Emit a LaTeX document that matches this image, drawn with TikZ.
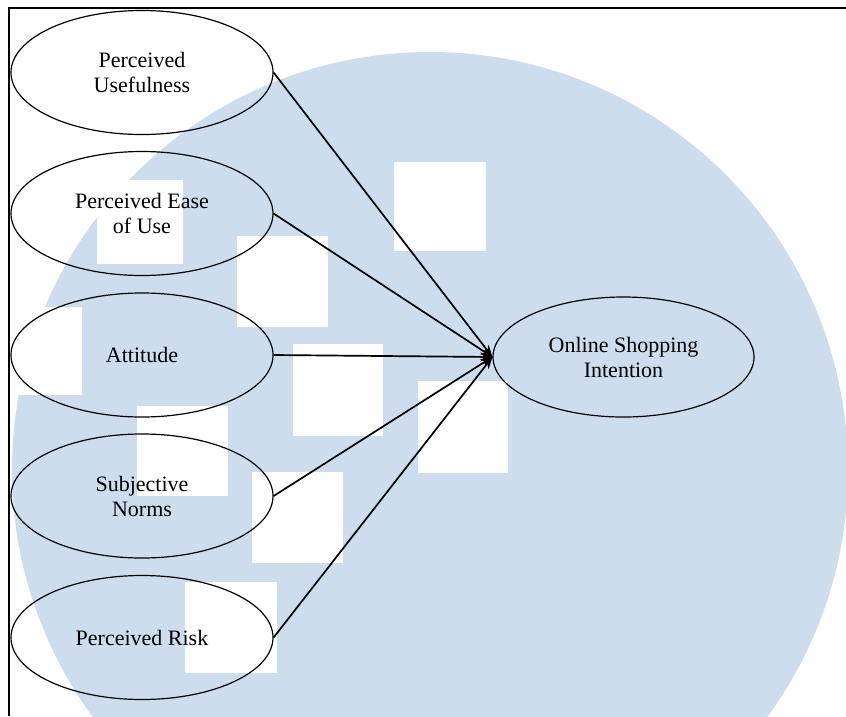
\documentclass[tikz,border=0pt]{standalone}
\usepackage{fontspec}
\setmainfont{Liberation Serif}
\usetikzlibrary{shapes.geometric,arrows.meta}
\definecolor{wmblue}{RGB}{205,221,237}
\begin{document}
\begin{tikzpicture}[x=1pt,y=-1pt,
  factor/.style={draw, line width=1.2pt, ellipse, minimum width=262pt, minimum height=124pt, inner sep=0pt, align=center, font=\fontsize{22}{25}\selectfont},
  link/.style={line width=1.7pt, -{Stealth[length=12pt,width=9pt]}},
  frameline/.style={line width=2.2pt}]
\useasboundingbox (0,0) rectangle (846,716);
\begin{scope}
  \clip (0,0) rectangle (846,716);
  \fill[wmblue] (430,470) circle[radius=418];
  \fill[white] (394,162) rectangle (486,251);
  \fill[white] (237,236) rectangle (328,327);
  \fill[white] (293,344) rectangle (383,436);
  \fill[white] (418,381) rectangle (508,473);
  \fill[white] (137,406) rectangle (228,496);
  \fill[white] (252,472) rectangle (343,563);
  \fill[white] (185,582) rectangle (277,673);
  \fill[white] (97,180) rectangle (183,264);
  \fill[white] (0,307) rectangle (82,395);
\end{scope}
\draw[frameline] (846,8) -- (9,8) -- (9,716);
\node[factor] (pu) at (142,72.5) {Perceived\\Usefulness};
\node[factor] (peou) at (142,213.5) {Perceived Ease\\of Use};
\node[factor] (att) at (142,355) {Attitude};
\node[factor] (sn) at (142,496) {Subjective\\Norms};
\node[factor] (pr) at (142,637.5) {Perceived Risk};
\node[factor, minimum width=261pt, minimum height=120pt] (osi) at (623.5,357) {Online Shopping\\Intention};
\foreach \n in {pu,peou,att,sn,pr} \draw[link] (\n.east) -- (osi.west);
\end{tikzpicture}
\end{document}
